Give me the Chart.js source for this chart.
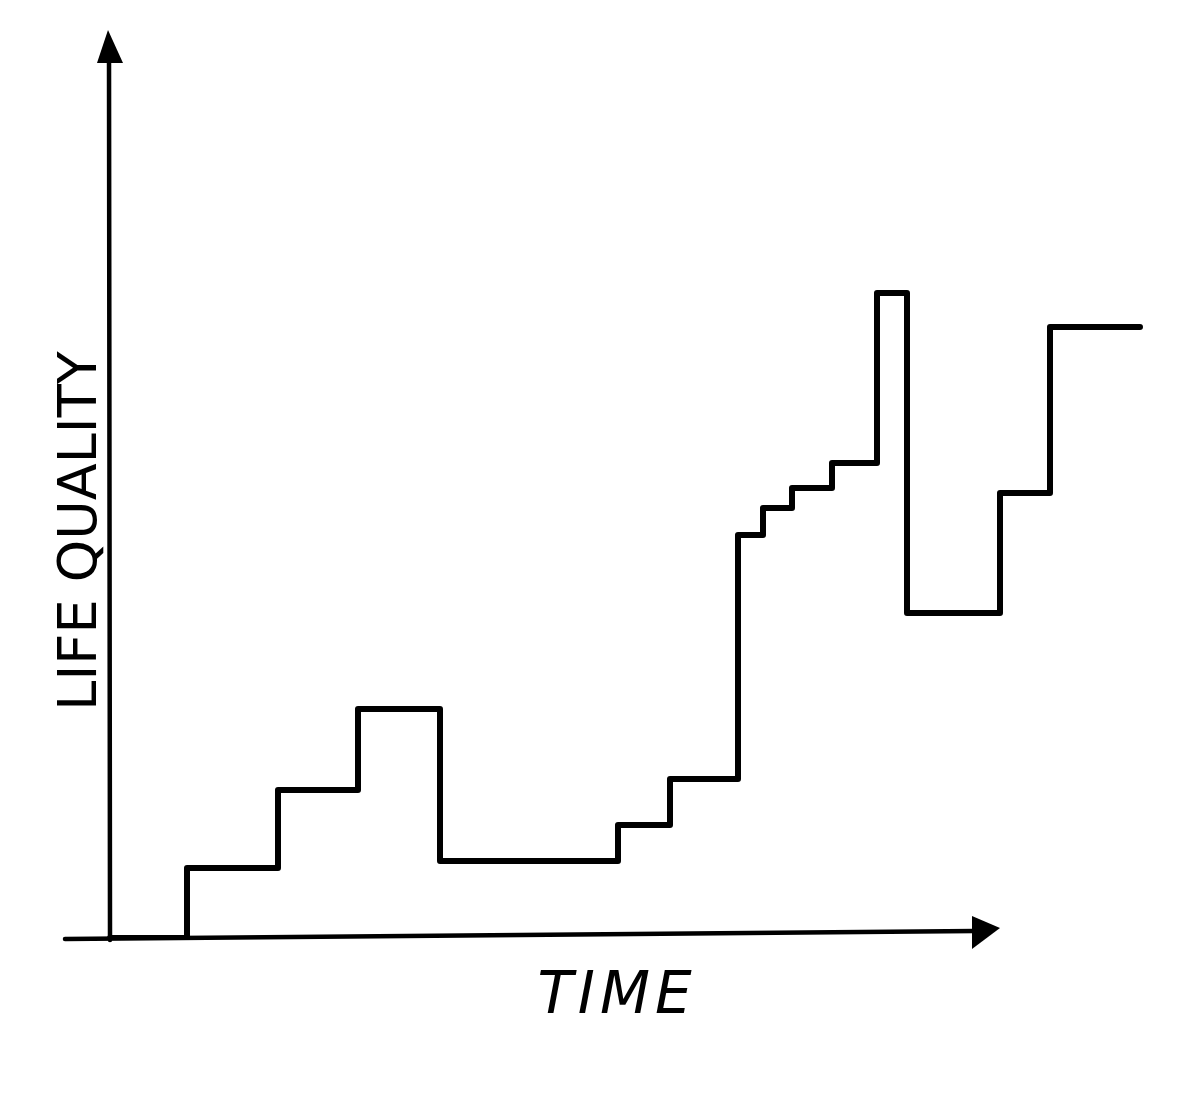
<!DOCTYPE html>
<html>
<head>
<meta charset="utf-8">
<script src="https://cdn.jsdelivr.net/npm/chart.js@4/dist/chart.umd.min.js"></script>
<style>
  html, body { margin: 0; padding: 0; background: #ffffff; }
  #wrap { width: 1179px; height: 1096px; }
</style>
</head>
<body>
<div id="wrap"><canvas id="c" width="1179" height="1096"></canvas></div>
<script>
// ---- data ----
// time at which each step happens, and the new life-quality level after it
const times   = [0, 7.7, 16.8, 24.8, 33.0, 50.8, 56.0, 62.8, 65.3, 68.2, 72.2, 76.7, 79.7, 89.0, 94.0, 103.0];
const quality = [0, 7.0, 14.8, 22.9, 7.7, 11.3, 15.9, 40.3, 43.0, 45.0, 47.5, 64.5, 32.5, 44.5, 61.1, 61.1];
const xAxisTitle = 'TIME';
const yAxisTitle = 'LIFE QUALITY';
const xRange = [-4.5, 103.5];
const yRange = [0, 90.8];
const xArrowTip = 89.0;

const points = times.map((t, i) => ({ x: t, y: quality[i] }));

const axesPlugin = {
  id: 'sketchAxes',
  beforeDatasetsDraw(chart) {
    const { ctx, scales: { x, y } } = chart;
    const x0 = x.getPixelForValue(0);
    const y0 = y.getPixelForValue(0);
    const xL = x.getPixelForValue(xRange[0]);
    const xTip = x.getPixelForValue(xArrowTip);
    const yTop = y.getPixelForValue(yRange[1]);
    ctx.save();
    ctx.strokeStyle = '#000';
    ctx.fillStyle = '#000';
    ctx.lineCap = 'round';
    ctx.lineWidth = 4.5;
    // y axis
    ctx.beginPath();
    ctx.moveTo(x0, y0 + 2);
    ctx.lineTo(x0 - 1, yTop + 25);
    ctx.stroke();
    ctx.beginPath();
    ctx.moveTo(x0 - 2, yTop);
    ctx.lineTo(x0 - 13, yTop + 33);
    ctx.lineTo(x0 + 13, yTop + 33);
    ctx.closePath();
    ctx.fill();
    // x axis (slightly rising to the right, like the sketch)
    ctx.beginPath();
    ctx.moveTo(xL, y0 + 1);
    ctx.lineTo(xTip - 25, y0 - 7);
    ctx.stroke();
    ctx.beginPath();
    ctx.moveTo(xTip, y0 - 10);
    ctx.lineTo(xTip - 28, y0 - 22);
    ctx.lineTo(xTip - 28, y0 + 11);
    ctx.closePath();
    ctx.fill();
    ctx.restore();
  },
  afterDraw(chart) {
    const { ctx } = chart;
    ctx.save();
    ctx.fillStyle = '#000';
    // x title
    ctx.font = 'italic 58px "DejaVu Sans"';
    ctx.textAlign = 'center';
    ctx.textBaseline = 'alphabetic';
    try { ctx.letterSpacing = '5px'; } catch (e) {}
    ctx.fillText(xAxisTitle, 617, 1013);
    // y title
    ctx.font = '54px "DejaVu Sans"';
    try { ctx.letterSpacing = '0px'; } catch (e) {}
    ctx.translate(96, 531);
    ctx.rotate(-Math.PI / 2);
    ctx.fillText(yAxisTitle, 0, 0);
    ctx.restore();
  }
};

new Chart(document.getElementById('c'), {
  type: 'line',
  data: {
    datasets: [{
      label: 'Life quality',
      data: points,
      stepped: 'before',
      borderColor: '#000',
      borderWidth: 6,
      borderJoinStyle: 'round',
      borderCapStyle: 'round',
      pointRadius: 0,
      fill: false,
      tension: 0
    }]
  },
  options: {
    responsive: false,
    devicePixelRatio: 1,
    animation: false,
    layout: { padding: { left: 65, right: 34, top: 30, bottom: 158 } },
    plugins: { legend: { display: false }, tooltip: { enabled: false }, title: { display: false } },
    scales: {
      x: { type: 'linear', min: xRange[0], max: xRange[1], display: false },
      y: { type: 'linear', min: yRange[0], max: yRange[1], display: false }
    }
  },
  plugins: [axesPlugin]
});
</script>
</body>
</html>
